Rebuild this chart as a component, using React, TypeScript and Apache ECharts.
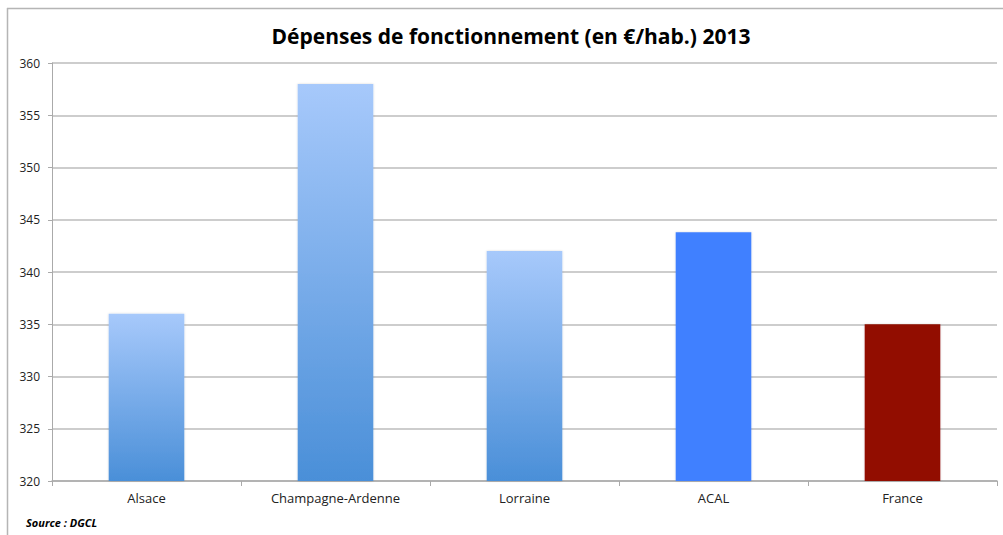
import React, { useEffect, useRef } from "react";
import * as echarts from "echarts";

const categories = ["Alsace", "Champagne-Ardenne", "Lorraine", "ACAL", "France"];
const values = [336, 358, 342, 343.8, 335];
const yTicks = [320, 325, 330, 335, 340, 345, 350, 355, 360];

const gradient = () =>
  new echarts.graphic.LinearGradient(0, 0, 0, 1, [
    { offset: 0, color: "#a7c9fb" },
    { offset: 1, color: "#4a8fd8" },
  ]);
const barColors = [gradient(), gradient(), gradient(), "#4180ff", "#921100"];

export default function App() {
  const ref = useRef<HTMLDivElement>(null);
  useEffect(() => {
    if (!ref.current) return;
    const chart = echarts.init(ref.current, null, { renderer: "svg" });
    chart.setOption({
      animation: false,
      backgroundColor: "#ffffff",
      title: {
        text: "Dépenses de fonctionnement (en €/hab.) 2013",
        left: 506,
        textAlign: "center",
        top: 20,
        textStyle: {
          fontFamily: "Open Sans",
          fontWeight: "bold",
          fontSize: 21,
          color: "#000",
        },
      },
      grid: { left: 52, right: 6, top: 63, bottom: 54, containLabel: false },
      xAxis: {
        type: "category",
        data: categories,
        axisLine: { lineStyle: { color: "#aaaaaa", width: 1.5 } },
        axisTick: { show: true, length: 5, lineStyle: { color: "#aaaaaa" }, alignWithLabel: false },
        axisLabel: {
          fontFamily: "Open Sans",
          fontSize: 13,
          color: "#222",
          margin: 10,
        },
      },
      yAxis: {
        type: "value",
        min: yTicks[0],
        max: yTicks[yTicks.length - 1],
        interval: 5,
        axisLine: { show: true, lineStyle: { color: "#aaaaaa" } },
        axisTick: { show: true, length: 4, lineStyle: { color: "#aaaaaa" } },
        splitLine: { lineStyle: { color: "#bdbdbd", width: 1.5 } },
        axisLabel: {
          fontFamily: "Open Sans",
          fontSize: 12,
          color: "#222",
          margin: 12,
        },
      },
      series: [
        {
          type: "bar",
          barWidth: "40%",
          data: values.map((v, i) => ({ value: v, itemStyle: { color: barColors[i] } })),
          itemStyle: { shadowColor: "rgba(0,0,0,0.15)", shadowBlur: 2 },
        },
      ],
      graphic: [
        {
          type: "line",
          shape: { x1: 7, y1: 8.5, x2: 1003, y2: 8.5 },
          style: { stroke: "#b5b5b5", lineWidth: 1.5 },
        },
        {
          type: "line",
          shape: { x1: 7.5, y1: 8, x2: 7.5, y2: 535 },
          style: { stroke: "#b5b5b5", lineWidth: 1.5 },
        },
        {
          type: "text",
          left: 26,
          top: 517,
          style: {
            text: "Source : DGCL",
            font: "italic bold 11px 'Open Sans'",
            fill: "#000",
          },
        },
      ],
    });
    return () => chart.dispose();
  }, []);
  return (
    <div
      ref={ref}
      style={{ position: "fixed", left: 0, top: 0, width: 1003, height: 535 }}
    />
  );
}
